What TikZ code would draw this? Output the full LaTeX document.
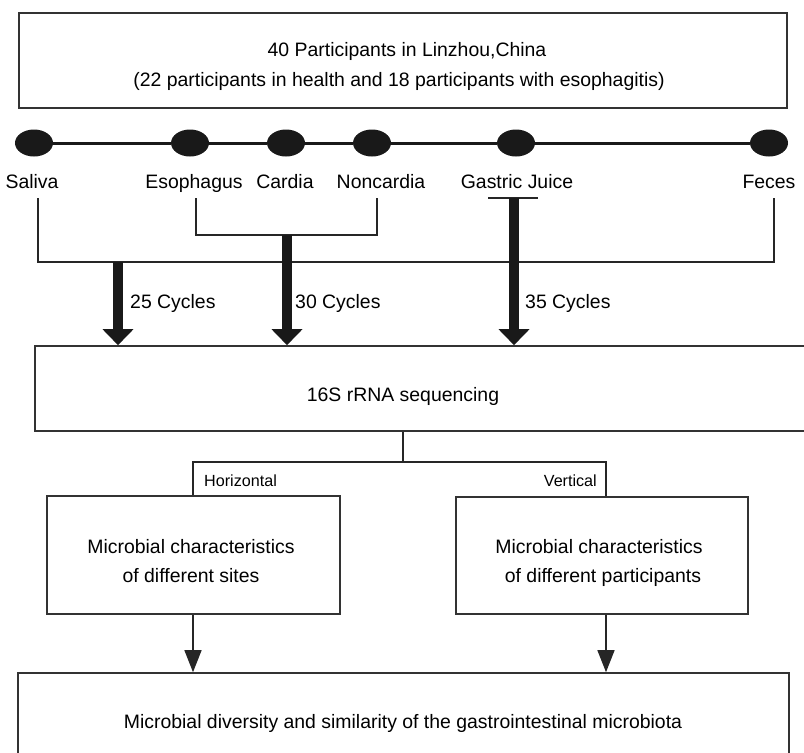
\documentclass[tikz,border=0pt]{standalone}
\usepackage{fontspec}
\setmainfont{Liberation Sans}
\usetikzlibrary{arrows.meta,shapes.geometric}
\begin{document}
\begin{tikzpicture}[x=1bp,y=-1bp,
  box/.style={draw=black!80, line width=1.6bp, inner sep=0pt},
  txt/.style={font=\fontsize{19.5}{29}\selectfont, inner sep=0pt, anchor=base},
  small/.style={font=\fontsize{16.2}{18}\selectfont, inner sep=0pt},
  site/.style={ellipse, fill=black!90, minimum width=38bp, minimum height=27bp, inner sep=0pt},
  chain/.style={line width=3bp, draw=black!90},
  brk/.style={line width=1.3bp, draw=black!85},
  fat/.style={line width=10bp, draw=black!90, -{Triangle[width=30bp,length=16bp]}},
  thinarr/.style={line width=1.3bp, draw=black!85, -{Triangle[width=17bp,length=22bp]}},
]
\useasboundingbox (0,0) rectangle (804,753);
\fill[white] (0,0) rectangle (804,753);
\clip (0,0) rectangle (804,753);

% boxes
\node[box, minimum width=768bp, minimum height=95bp] (top) at (403,60.5) {};
\node[box, minimum width=775bp, minimum height=85bp] (seq) at (422.5,388.5) {};
\node[box, minimum width=293bp, minimum height=118bp] (lbox) at (193.5,555) {};
\node[box, minimum width=292bp, minimum height=117bp] (rbox) at (602,555.5) {};
\node[box, minimum width=771bp, minimum height=100bp] (bot) at (403.5,723) {};

% box texts
\node[txt] (toptxt1) at (407,57) {40 Participants in Linzhou,China};
\node[txt] (toptxt2) at (399,86) {(22 participants in health and 18 participants with esophagitis)};
\node[txt] (seqtxt) at (403,401) {16S rRNA sequencing};
\node[txt] (ltxt1) at (191,553) {Microbial characteristics};
\node[txt] (ltxt2) at (191,582) {of different sites};
\node[txt] (rtxt1) at (599,553) {Microbial characteristics};
\node[txt] (rtxt2) at (603,582) {of different participants};
\node[txt] (bottxt) at (403,728) {Microbial diversity and similarity of the gastrointestinal microbiota};

% sampling sites
\foreach \n/\x in {sal/34, eso/190, car/286, non/372, gas/516, fec/769}
  \node[site] (\n) at (\x,143) {};
\draw[chain] (sal) -- (eso) (eso) -- (car) (car) -- (non) (non) -- (gas) (gas) -- (fec);

\node[txt] (lsal) at (32,188) {Saliva};
\node[txt] (leso) at (194,188) {Esophagus};
\node[txt] (lcar) at (285,188) {Cardia};
\node[txt] (lnon) at (381,188) {Noncardia};
\node[txt] (lgas) at (517,188) {Gastric Juice};
\node[txt] (lfec) at (769,188) {Feces};

% brackets
\coordinate (bs) at (38,198);
\coordinate (bf) at (774,198);
\coordinate (hj) at (774,262);
\draw[brk] (bs) |- (hj) -- (bf);
\coordinate (be) at (196,198);
\coordinate (bn) at (377,198);
\coordinate (hk) at (377,235);
\draw[brk] (be) |- (hk) -- (bn);
\coordinate (tg1) at (488,198);
\coordinate (tg2) at (538,198);
\draw[brk] (tg1) -- (tg2);

% PCR arrows
\coordinate (a1) at (118,262);
\coordinate (a2) at (287,235);
\coordinate (a3) at (514,198);
\draw[fat] (a1) -- (a1 |- seq.north);
\draw[fat] (a2) -- (a2 |- seq.north);
\draw[fat] (a3) -- (a3 |- seq.north);
\node[txt, anchor=base west] (c25) at (130,308) {25 Cycles};
\node[txt, anchor=base west] (c30) at (295,308) {30 Cycles};
\node[txt, anchor=base west] (c35) at (525,308) {35 Cycles};

% lower tree
\coordinate (s1) at (403,462);
\coordinate (hl) at (193,462);
\coordinate (hr) at (606,462);
\draw[brk] (s1 |- seq.south) -- (s1);
\draw[brk] (hl |- lbox.north) -- (hl) -- (hr) -- (hr |- rbox.north);
\node[small, anchor=base west] (hz) at (204,486) {Horizontal};
\node[small, anchor=base east] (vt) at (597,486) {Vertical};
\draw[thinarr] (hl |- lbox.south) -- (hl |- bot.north);
\draw[thinarr] (hr |- rbox.south) -- (hr |- bot.north);
\end{tikzpicture}
\end{document}
